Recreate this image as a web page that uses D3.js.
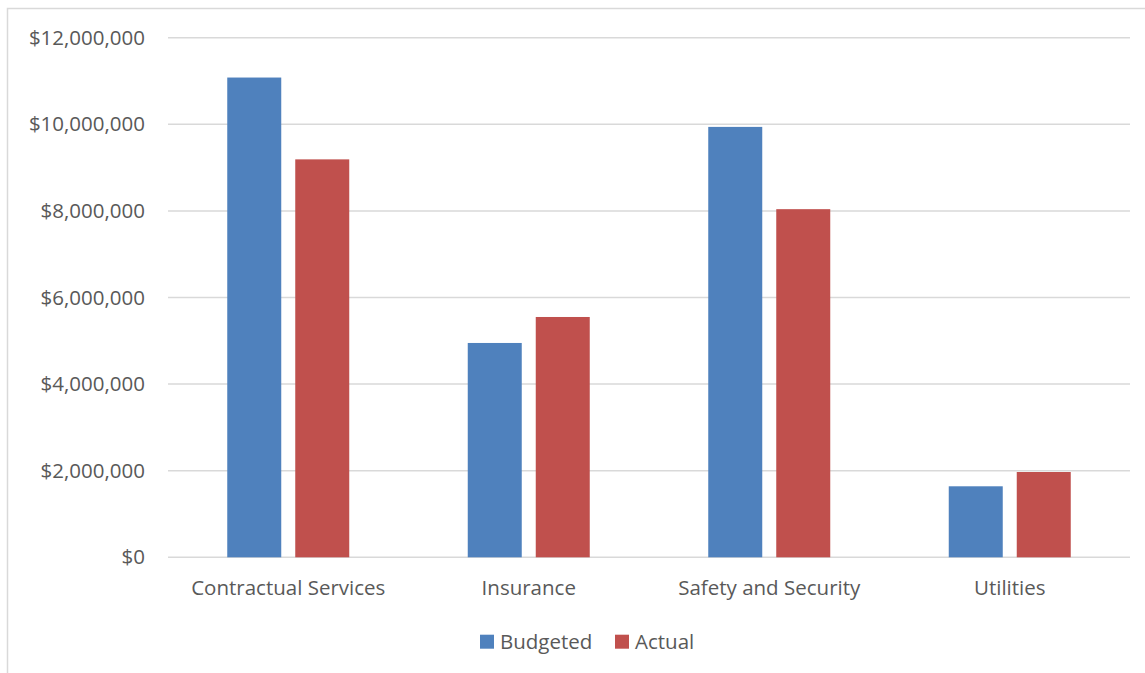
<!DOCTYPE html>
<html><head><meta charset="utf-8">
<script src="https://cdn.jsdelivr.net/npm/d3@7"></script>
<style>body{margin:0;background:#fff;} svg{display:block;font-family:"Open Sans",sans-serif;}</style>
</head><body>
<svg id="c" width="1145" height="673"></svg>
<script>
const categories = ["Contractual Services","Insurance","Safety and Security","Utilities"];
const seriesNames = ["Budgeted","Actual"];
const budgeted = [11080000, 4950000, 9940000, 1640000];
const actual = [9190000, 5550000, 8040000, 1970000];
const yTicks = [0,2000000,4000000,6000000,8000000,10000000,12000000];
const colors = ["#4f81bd","#c0504d"];

const svg = d3.select("#c");
svg.append("rect").attr("x",7.5).attr("y",8.5).attr("width",1145).attr("height",673)
  .attr("fill","#fff").attr("stroke","#d9d9d9").attr("stroke-width",1.5);

const pLeft=168, pRight=1130, pTop=37.7, pBottom=557.3;
const x = d3.scaleBand().domain(categories).range([pLeft,pRight]);
const y = d3.scaleLinear().domain([0,12000000]).range([pBottom,pTop]);
const barW = 54, gap = 14;
const fs = "20.5px";

svg.append("g").selectAll("line").data(yTicks).join("line")
  .attr("x1",pLeft).attr("x2",pRight).attr("y1",d=>y(d)).attr("y2",d=>y(d))
  .attr("stroke","#d9d9d9").attr("stroke-width",1.5);

const fmt = d3.format("$,");
svg.append("g").selectAll("text").data(yTicks).join("text")
  .attr("x",145).attr("y",d=>y(d)).attr("dy","0.35em").attr("text-anchor","end")
  .attr("fill","#595959").style("font-size",fs).text(d=>fmt(d));

const series=[budgeted,actual];
series.forEach((vals,si)=>{
  svg.append("g").selectAll("rect").data(vals).join("rect")
    .attr("x",(d,i)=>x(categories[i])+x.bandwidth()/2 + (si===0 ? -gap/2-barW : gap/2))
    .attr("width",barW)
    .attr("y",d=>y(d)).attr("height",d=>y(0)-y(d))
    .attr("fill",colors[si]);
});

svg.append("g").selectAll("text").data(categories).join("text")
  .attr("x",d=>x(d)+x.bandwidth()/2).attr("y",595).attr("text-anchor","middle")
  .attr("fill","#595959").style("font-size",fs).text(d=>d);

const legX=[480,615];
seriesNames.forEach((n,i)=>{
  svg.append("rect").attr("x",legX[i]).attr("y",634.7).attr("width",14).attr("height",14).attr("fill",colors[i]);
  svg.append("text").attr("x",legX[i]+20).attr("y",648.5).attr("fill","#595959").style("font-size",fs).text(n);
});
</script>
</body></html>
